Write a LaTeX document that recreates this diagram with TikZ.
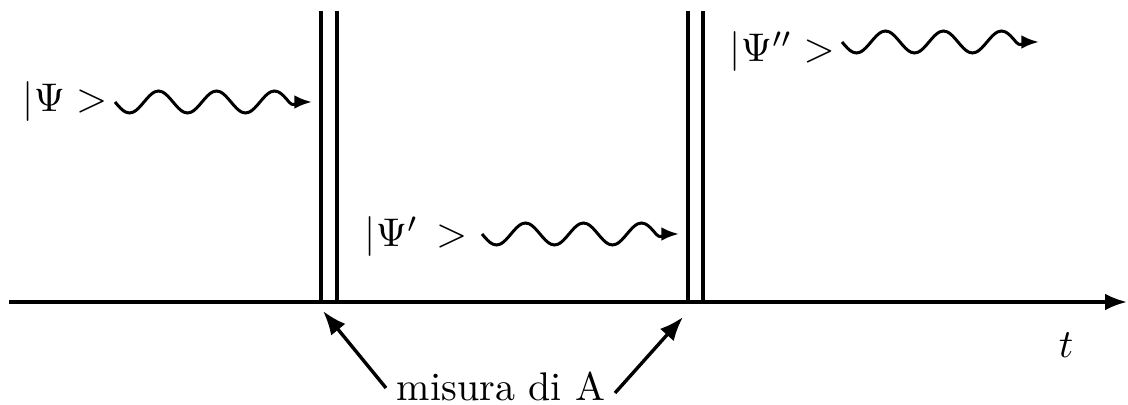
\documentclass[tikz,border=0pt]{standalone}
\usetikzlibrary{arrows.meta}
\begin{document}
\begin{tikzpicture}[x=0.25pt,y=-0.25pt,
  axis/.style={line width=0.8pt,-{Latex[length=5.5pt,width=4.2pt]}},
  wall/.style={line width=1pt},
  pointer/.style={line width=0.85pt,-{Latex[length=6pt,width=4.6pt]}},
  wavy/.style={line width=0.75pt,-{Latex[length=4.4pt,width=3.4pt]}},
  lab/.style={inner sep=0pt,anchor=base west}]
\useasboundingbox (0,0) rectangle (1128,405);
% time axis
\coordinate (ax0) at (9,302);
\coordinate (ax1) at (1127,302);
\draw[axis] (ax0) -- (ax1);
\node[inner sep=0pt,anchor=base] (t) at (1066,358) {$t$};
% measurement walls
\foreach \n/\xx in {w1a/321,w1b/337,w2a/688,w2b/703}{
  \coordinate (\n) at (\xx,11);
  \draw[wall] (\n) -- (\n |- ax0);
}
% states
\node[lab] (psi1) at (22,112) {$|\Psi >$};
\node[lab] (psi2) at (364,247) {$|\Psi'\,>$};
\node[lab] (psi3) at (729,62) {$|\Psi'' >$};
\coordinate (s1) at (115,102); \coordinate (e1) at (312,102);
\coordinate (s2) at (482,234); \coordinate (e2) at (679,234);
\coordinate (s3) at (842,42);  \coordinate (e3) at (1039,42);
\foreach \s/\e in {s1/e1,s2/e2,s3/e3}{
  \begin{scope}[shift={(\s)}]
    \draw[wavy] plot[smooth,domain=0:174,samples=49] (\x,{11*sin(\x/58*360)})
      .. controls (179,5.9) and (184,0) .. (\e);
  \end{scope}
}
% label
\node[inner sep=0pt,anchor=base] (lbl) at (501,401) {misura di A};
\coordinate (p1) at (386,388);
\coordinate (p2) at (615,393);
\coordinate (t1) at (323,311);
\coordinate (t2) at (683,317);
\draw[pointer] (p1) -- (t1);
\draw[pointer] (p2) -- (t2);
\end{tikzpicture}
\end{document}
